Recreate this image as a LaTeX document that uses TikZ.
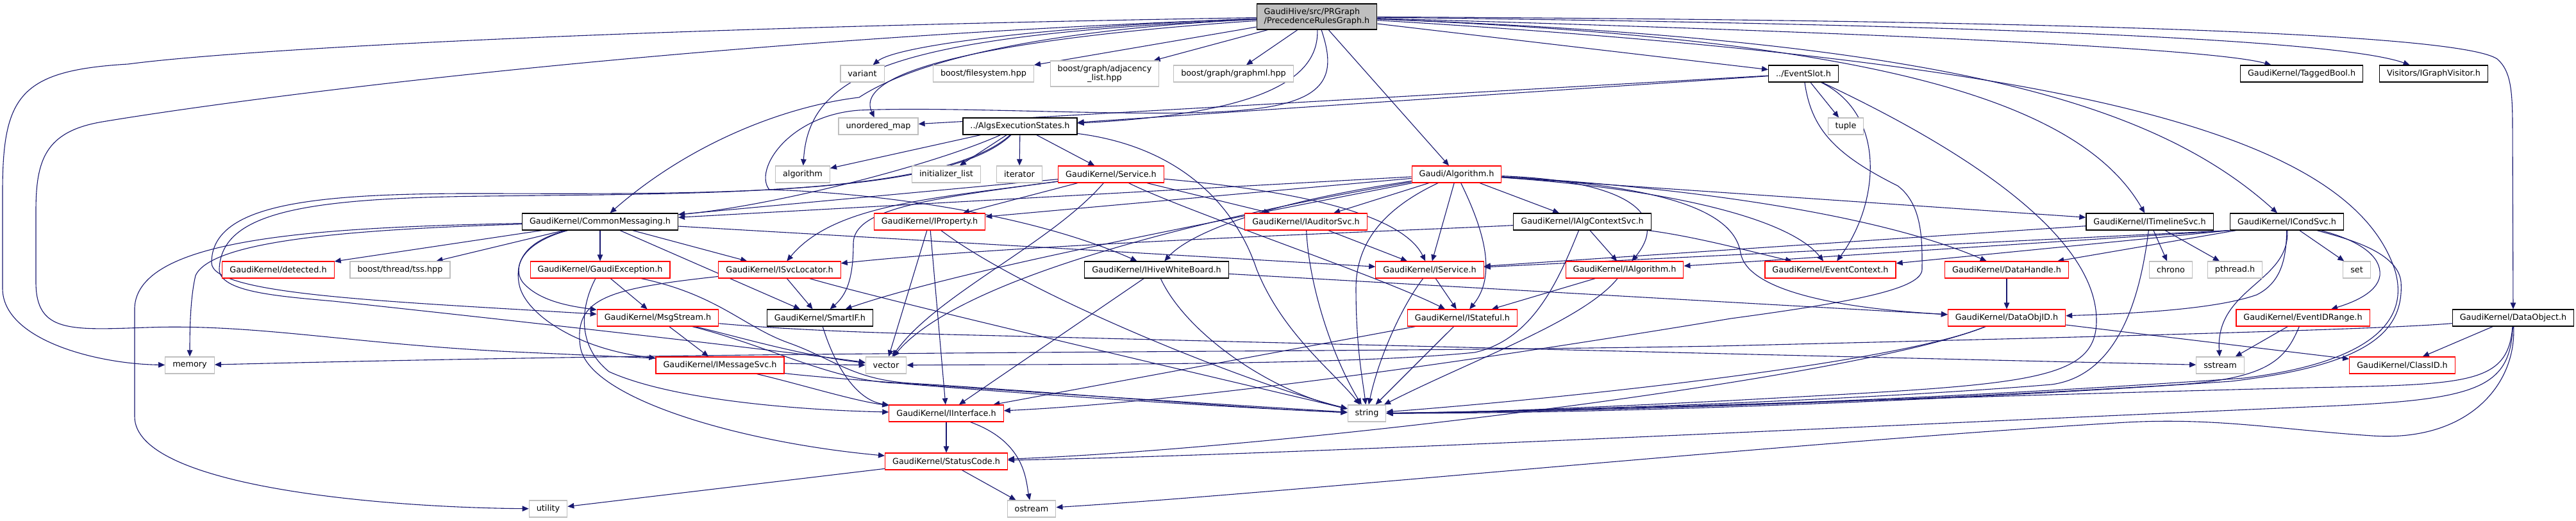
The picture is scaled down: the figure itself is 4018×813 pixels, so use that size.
\documentclass[tikz,border=0pt]{standalone}
\usepackage{fontspec}
\setmainfont{DejaVu Sans}
\usetikzlibrary{arrows.meta}
\definecolor{edgecol}{HTML}{191970}
\definecolor{graycol}{HTML}{BFBFBF}
\pgfdeclarelayer{bg}
\pgfsetlayers{bg,main}
\begin{document}
\begin{tikzpicture}[x=1pt,y=-1pt,
  base/.style={draw,line width=1.2pt,minimum height=26pt,inner xsep=11.5pt,inner ysep=3pt,font=\fontsize{12.8}{14}\selectfont,fill=white},
  rednode/.style={base,draw=red},
  blacknode/.style={base,draw=black},
  graynode/.style={base,draw=graycol},
  mainnode/.style={base,draw=black,fill=graycol,align=left,minimum height=40pt},
  dep/.style={draw=edgecol,line width=1.1pt,-{Triangle[length=10pt,width=8.5pt]}}]
\useasboundingbox (0,0) rectangle (4018,813);
% ---------------- nodes ----------------
\node[mainnode] (main) at (2054,26) {GaudiHive/src/PRGraph\\/PrecedenceRulesGraph.h};
\node[graynode] (variant) at (1345,115) {variant};
\node[graynode] (fs) at (1534,115) {boost/filesystem.hpp};
\node[graynode,align=center,minimum height=40pt] (adj) at (1723,115) {boost/graph/adjacency\\\_list.hpp};
\node[graynode] (graphml) at (1924,115) {boost/graph/graphml.hpp};
\node[blacknode] (evslot) at (2813,115) {../EventSlot.h};
\node[blacknode] (tagged) at (3590,115) {GaudiKernel/TaggedBool.h};
\node[blacknode] (visitor) at (3796,115) {Visitors/IGraphVisitor.h};
\node[graynode] (umap) at (1370,197) {unordered\_map};
\node[blacknode] (aes) at (1591,197) {../AlgsExecutionStates.h};
\node[graynode] (tuple) at (2879,197) {tuple};
\node[graynode] (algorithm) at (1252,272) {algorithm};
\node[graynode] (initlist) at (1476,272) {initializer\_list};
\node[graynode] (iterator) at (1590,272) {iterator};
\node[rednode] (service) at (1733,272) {GaudiKernel/Service.h};
\node[rednode] (galg) at (2272,272) {Gaudi/Algorithm.h};
\node[blacknode] (cmsg) at (936,346) {GaudiKernel/CommonMessaging.h};
\node[rednode] (iprop) at (1450,346) {GaudiKernel/IProperty.h};
\node[rednode] (iaud) at (2037,346) {GaudiKernel/IAuditorSvc.h};
\node[blacknode] (iacs) at (2468,346) {GaudiKernel/IAlgContextSvc.h};
\node[blacknode] (itl) at (3353,346) {GaudiKernel/ITimelineSvc.h};
\node[blacknode] (icond) at (3567,346) {GaudiKernel/ICondSvc.h};
\node[rednode] (detected) at (434,421) {GaudiKernel/detected.h};
\node[graynode] (tss) at (624,421) {boost/thread/tss.hpp};
\node[rednode] (gexc) at (936,421) {GaudiKernel/GaudiException.h};
\node[rednode] (isvcloc) at (1216,421) {GaudiKernel/ISvcLocator.h};
\node[blacknode] (ihwb) at (1804,421) {GaudiKernel/IHiveWhiteBoard.h};
\node[rednode] (iserv) at (2230,421) {GaudiKernel/IService.h};
\node[rednode] (ialg) at (2534,421) {GaudiKernel/IAlgorithm.h};
\node[rednode] (evctx) at (2855,421) {GaudiKernel/EventContext.h};
\node[rednode] (dhandle) at (3130,421) {GaudiKernel/DataHandle.h};
\node[graynode] (chrono) at (3386,421) {chrono};
\node[graynode] (pthread) at (3486,421) {pthread.h};
\node[graynode] (set) at (3676,421) {set};
\node[rednode] (msgs) at (1026,496) {GaudiKernel/MsgStream.h};
\node[blacknode] (smartif) at (1279,496) {GaudiKernel/SmartIF.h};
\node[rednode] (istate) at (2281,496) {GaudiKernel/IStateful.h};
\node[rednode] (dobjid) at (3130,496) {GaudiKernel/DataObjID.h};
\node[rednode] (evidr) at (3592,496) {GaudiKernel/EventIDRange.h};
\node[blacknode] (dobj) at (3920,496) {GaudiKernel/DataObject.h};
\node[graynode] (memory) at (296,570) {memory};
\node[rednode] (imsg) at (1123,570) {GaudiKernel/IMessageSvc.h};
\node[graynode] (vector) at (1382,570) {vector};
\node[graynode] (sstream) at (3463,570) {sstream};
\node[rednode] (classid) at (3747,570) {GaudiKernel/ClassID.h};
\node[rednode] (iint) at (1476,645) {GaudiKernel/IInterface.h};
\node[graynode] (string) at (2132,645) {string};
\node[rednode] (status) at (1476,720) {GaudiKernel/StatusCode.h};
\node[graynode] (utility) at (855,794) {utility};
\node[graynode] (ostream) at (1609,794) {ostream};
% ---------------- edges ----------------
\begin{pgfonlayer}{bg}
% main
\draw[dep] (main) .. controls (900,45) and (350,80) .. (200,100) .. controls (30,110) and (4,150) .. (4,300) -- (4,450) .. controls (4,530) and (150,568) .. (memory);
\draw[dep] (main) .. controls (1100,60) and (400,150) .. (160,190) .. controls (70,205) and (56,250) .. (56,330) -- (56,440) .. controls (56,520) and (110,515) .. (230,511) .. controls (400,505) and (550,537) .. (800,549) .. controls (1000,558) and (1200,568) .. (vector);
\draw[dep] (main) .. controls (1400,55) and (1262,110) .. (algorithm);
\draw[dep] (main) .. controls (1650,40) and (1400,70) .. (variant);
\draw[dep] (main) -- (fs);
\draw[dep] (main) -- (adj);
\draw[dep] (main) -- (graphml);
\draw[dep] (main) .. controls (1550,60) and (1330,110) .. (umap);
\draw[dep] (main) .. controls (2058,130) and (1950,178) .. (aes);
\draw[dep] (main) .. controls (2086,120) and (2070,160) .. (1938,172) .. controls (1800,185) and (1500,165) .. (1340,172) .. controls (1230,180) and (1175,265) .. (1200,296) .. controls (1350,300) and (1600,330) .. (ihwb);
\draw[dep] (main) .. controls (1700,42) and (1450,80) .. (1340,152) .. controls (1230,165) and (1080,220) .. (cmsg);
\draw[dep] (main) -- (galg);
\draw[dep] (main) -- (evslot);
\draw[dep] (main) .. controls (2900,50) and (3450,75) .. (tagged);
\draw[dep] (main) .. controls (3100,38) and (3650,62) .. (visitor);
\draw[dep] (main) .. controls (3300,32) and (3840,55) .. (3895,92) .. controls (3916,110) and (3919,140) .. (3919,200) -- (dobj);
\draw[dep] (main) .. controls (2900,60) and (3240,150) .. (itl);
\draw[dep] (main) .. controls (3000,62) and (3350,150) .. (icond);
\draw[dep] (main) .. controls (3200,95) and (3660,200) .. (3735,420) .. controls (3760,500) and (3700,565) .. (3500,590) .. controls (3000,625) and (2500,642) .. (string);
% EventSlot
\draw[dep] (evslot) -- (aes);
\draw[dep] (evslot) -- (umap);
\draw[dep] (evslot) -- (tuple);
\draw[dep] (evslot) .. controls (2945,180) and (2930,320) .. (evctx);
\draw[dep] (evslot) .. controls (2825,200) and (2860,240) .. (2960,290) .. controls (3000,320) and (2998,380) .. (2998,420) .. controls (2998,450) and (2900,470) .. (2700,497) .. controls (2200,580) and (1800,630) .. (iint);
\draw[dep] (evslot) .. controls (3100,250) and (3270,380) .. (3270,500) .. controls (3270,600) and (3150,600) .. (2700,625) .. controls (2400,640) and (2250,645) .. (string);
% AlgsExecutionStates
\draw[dep] (aes) -- (initlist);
\draw[dep] (aes) -- (iterator);
\draw[dep] (aes) -- (service);
\draw[dep] (aes) -- (algorithm);
\draw[dep] (aes) .. controls (1450,260) and (1200,322) .. (cmsg);
\draw[dep] (aes) .. controls (1480,305) and (1100,303) .. (769,302) .. controls (500,301) and (330,315) .. (330,410) .. controls (330,460) and (600,470) .. (msgs);
\draw[dep] (aes) .. controls (1470,305) and (1100,302) .. (760,306) .. controls (480,309) and (345,330) .. (342,420) .. controls (342,455) and (430,462) .. (520,470) .. controls (800,500) and (1200,545) .. (vector);
\draw[dep] (aes) .. controls (1850,230) and (1930,330) .. (1960,420) .. controls (2000,520) and (2080,580) .. (string);
% Service
\draw[dep] (service) -- (iprop);
\draw[dep] (service) -- (iaud);
\draw[dep] (service) .. controls (2050,300) and (2190,340) .. (iserv);
\draw[dep] (service) .. controls (1850,330) and (2150,430) .. (istate);
\draw[dep] (service) -- (cmsg);
\draw[dep] (service) .. controls (1450,310) and (1300,320) .. (isvcloc);
\draw[dep] (service) .. controls (1450,310) and (1331,325) .. (1331,380) .. controls (1331,440) and (1318,462) .. (smartif);
\draw[dep] (service) .. controls (1640,380) and (1460,460) .. (vector);
% Gaudi/Algorithm
\draw[dep] (galg) -- (iaud);
\draw[dep] (galg) -- (iserv);
\draw[dep] (galg) .. controls (2315,360) and (2335,430) .. (istate);
\draw[dep] (galg) -- (iacs);
\draw[dep] (galg) .. controls (2540,282) and (2605,335) .. (ialg);
\draw[dep] (galg) .. controls (2170,320) and (2115,370) .. (2115,450) .. controls (2115,540) and (2125,590) .. (string);
\draw[dep] (galg) -- (iprop);
\draw[dep] (galg) -- (cmsg);
\draw[dep] (galg) .. controls (1900,345) and (1500,420) .. (smartif);
\draw[dep] (galg) .. controls (1950,320) and (1850,370) .. (ihwb);
\draw[dep] (galg) .. controls (1900,335) and (1500,430) .. (vector);
\draw[dep] (galg) -- (itl);
\draw[dep] (galg) .. controls (2600,295) and (2790,340) .. (evctx);
\draw[dep] (galg) .. controls (2600,290) and (2920,330) .. (dhandle);
\draw[dep] (galg) .. controls (2600,290) and (2705,330) .. (2715,395) .. controls (2725,450) and (2850,480) .. (dobjid);
% IAlgContextSvc
\draw[dep] (iacs) -- (ialg);
\draw[dep] (iacs) .. controls (2650,370) and (2740,395) .. (evctx);
\draw[dep] (iacs) .. controls (2200,360) and (1600,380) .. (isvcloc);
\draw[dep] (iacs) .. controls (2430,440) and (2390,530) .. (2300,550) .. controls (2100,570) and (1700,568) .. (vector);
% ITimelineSvc
\draw[dep] (itl) -- (chrono);
\draw[dep] (itl) -- (pthread);
\draw[dep] (itl) -- (iserv);
\draw[dep] (itl) .. controls (3340,450) and (3310,585) .. (3200,600) .. controls (2900,625) and (2400,642) .. (string);
% ICondSvc
\draw[dep] (icond) -- (set);
\draw[dep] (icond) .. controls (3680,375) and (3715,400) .. (3712,430) .. controls (3708,460) and (3660,475) .. (evidr);
\draw[dep] (icond) .. controls (3572,440) and (3455,450) .. (sstream);
\draw[dep] (icond) .. controls (3566,400) and (3560,440) .. (3520,460) .. controls (3450,485) and (3300,490) .. (dobjid);
\draw[dep] (icond) .. controls (3650,370) and (3740,390) .. (3745,440) .. controls (3750,520) and (3690,570) .. (3480,595) .. controls (3000,628) and (2500,645) .. (string);
\draw[dep] (icond) -- (dhandle);
\draw[dep] (icond.south west) -- (evctx);
\draw[dep] (icond.south west) -- (iserv);
\draw[dep] (icond.south west) -- (ialg);
% data handles and objects
\draw[dep] (dhandle) -- (dobjid);
\draw[dep] (dobjid) -- (classid);
\draw[dep] (dobjid) .. controls (2950,570) and (2400,625) .. (string);
\draw[dep] (dobjid) .. controls (2900,590) and (2000,700) .. (status);
\draw[dep] (dobj) -- (classid);
\draw[dep] (dobj) .. controls (3700,516) and (3000,532) .. (2680,540) .. controls (2000,552) and (1300,545) .. (memory);
\draw[dep] (dobj) .. controls (3912,600) and (3850,600) .. (3600,605) .. controls (3000,620) and (2500,640) .. (string);
\draw[dep] (dobj) .. controls (3915,610) and (3860,625) .. (3600,635) .. controls (2800,670) and (2000,710) .. (status);
\draw[dep] (dobj) .. controls (3925,600) and (3850,690) .. (3700,680) .. controls (3550,670) and (3450,650) .. (3300,660) .. controls (2800,690) and (2000,770) .. (ostream);
\draw[dep] (evidr) -- (sstream);
\draw[dep] (evidr) .. controls (3565,560) and (3540,590) .. (3400,600) .. controls (3000,625) and (2500,642) .. (string);
% interfaces
\draw[dep] (iserv) -- (istate);
\draw[dep] (iserv) .. controls (2185,480) and (2150,560) .. (string);
\draw[dep] (ialg) -- (istate);
\draw[dep] (ialg) .. controls (2470,500) and (2300,560) .. (string);
\draw[dep] (istate) -- (iint);
\draw[dep] (istate) -- (string);
\draw[dep] (ihwb) -- (iint);
\draw[dep] (ihwb) .. controls (1850,520) and (1980,610) .. (string);
\draw[dep] (ihwb) -- (dobjid);
\draw[dep] (iprop) -- (vector);
\draw[dep] (iprop) -- (iint);
\draw[dep] (iprop) .. controls (1600,460) and (1950,600) .. (string);
\draw[dep] (iaud) -- (iserv);
\draw[dep] (iaud) .. controls (2042,450) and (2080,560) .. (string);
% CommonMessaging
\draw[dep] (cmsg) -- (detected);
\draw[dep] (cmsg) -- (tss);
\draw[dep] (cmsg) -- (gexc);
\draw[dep] (cmsg) .. controls (810,380) and (800,420) .. (815,440) .. controls (840,470) and (890,478) .. (msgs);
\draw[dep] (cmsg) .. controls (805,380) and (805,420) .. (810,445) .. controls (820,490) and (900,545) .. (imsg);
\draw[dep] (cmsg) -- (isvcloc);
\draw[dep] (cmsg) -- (smartif);
\draw[dep] (cmsg) -- (iserv);
\draw[dep] (cmsg) .. controls (550,358) and (330,375) .. (305,430) .. controls (298,460) and (296,500) .. (memory);
\draw[dep] (cmsg) .. controls (500,355) and (215,370) .. (210,480) -- (210,650) .. controls (210,760) and (600,792) .. (utility);
% GaudiException, ISvcLocator, MsgStream ...
\draw[dep] (gexc) -- (msgs);
\draw[dep] (gexc) .. controls (905,480) and (900,540) .. (950,580) .. controls (1050,625) and (1250,640) .. (iint);
\draw[dep] (gexc) .. controls (1120,460) and (1160,510) .. (1230,535) .. controls (1300,560) and (1330,592) .. (1420,598) .. controls (1650,612) and (1900,635) .. (string);
\draw[dep] (isvcloc) -- (smartif);
\draw[dep] (isvcloc) .. controls (1350,460) and (1600,520) .. (string);
\draw[dep] (isvcloc) .. controls (950,450) and (895,465) .. (905,540) .. controls (915,620) and (1150,690) .. (status);
\draw[dep] (msgs) -- (imsg);
\draw[dep] (msgs) .. controls (1150,525) and (1250,555) .. (vector);
\draw[dep] (msgs) .. controls (1200,512) and (1300,517) .. (1400,520) .. controls (2000,535) and (3000,560) .. (sstream);
\draw[dep] (msgs) .. controls (1200,540) and (1300,595) .. (1400,598) .. controls (1600,615) and (1900,635) .. (string);
\draw[dep] (smartif) .. controls (1305,580) and (1340,625) .. (iint);
\draw[dep] (imsg) .. controls (1250,600) and (1330,625) .. (iint);
\draw[dep] (imsg) .. controls (1300,592) and (1600,612) .. (string);
\draw[dep] (iint) -- (status);
\draw[dep] (iint) .. controls (1600,690) and (1600,750) .. (ostream);
\draw[dep] (status) -- (ostream);
\draw[dep] (status) -- (utility);
\end{pgfonlayer}
\end{tikzpicture}
\end{document}
